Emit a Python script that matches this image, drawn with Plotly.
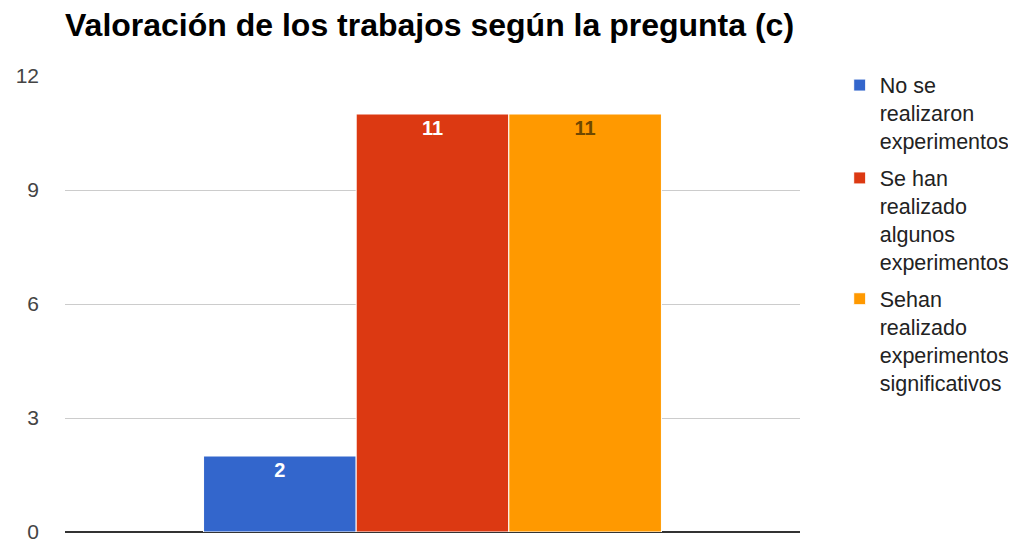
import plotly.graph_objects as go

FONT = "Arial, Liberation Sans, sans-serif"

category = ["Pregunta (c)"]
series_names = [
    "No se<br>realizaron<br>experimentos",
    "Se han<br>realizado<br>algunos<br>experimentos",
    "Sehan<br>realizado<br>experimentos<br>significativos",
]
series_values = [2, 11, 11]
series_colors = ["#3366cc", "#dc3912", "#ff9900"]
label_colors = ["#ffffff", "#ffffff", "#6e4800"]
y_ticks = [0, 3, 6, 9, 12]

fig = go.Figure()
for i, (name, value, color, lcolor) in enumerate(
    zip(series_names, series_values, series_colors, label_colors)
):
    fig.add_trace(
        go.Bar(
            x=category,
            y=[value],
            name=name,
            legendgroup=f"g{i}",
            marker={"color": color, "line": {"color": "#ffffff", "width": 1}},
            text=[str(value)],
            textposition="inside",
            insidetextanchor="end",
            textangle=0,
            textfont={"family": FONT, "size": 20, "color": lcolor, "weight": "bold"},
        )
    )

fig.update_layout(
    width=1016,
    height=544,
    margin={"l": 57, "r": 224, "t": 68, "b": 20, "autoexpand": False},
    paper_bgcolor="#ffffff",
    plot_bgcolor="#ffffff",
    barmode="group",
    bargap=0.377,
    bargroupgap=0,
    title={
        "text": "<b>Valoración de los trabajos según la pregunta (c)</b>",
        "x": 57 / 1016,
        "xanchor": "left",
        "y": 0.969,
        "yanchor": "middle",
        "font": {"family": FONT, "size": 32, "color": "#000000"},
    },
    legend={
        "x": 1.054,
        "xanchor": "left",
        "y": 1.025,
        "yanchor": "top",
        "valign": "top",
        "maxheight": 1000,
        "font": {"family": FONT, "size": 21.5, "color": "#222222"},
        "tracegroupgap": 6,
    },
    showlegend=True,
)

fig.update_xaxes(
    showticklabels=False, showgrid=False, zeroline=False, showline=False, automargin=False
)
fig.update_yaxes(
    range=[0, 12],
    tickvals=y_ticks,
    automargin=False,
    showgrid=True,
    gridcolor="#cccccc",
    gridwidth=1,
    zeroline=True,
    zerolinecolor="#333333",
    zerolinewidth=2,
    ticklabelstandoff=25,
    tickfont={"family": FONT, "size": 21, "color": "#444444"},
)

fig.write_html("out.html")
